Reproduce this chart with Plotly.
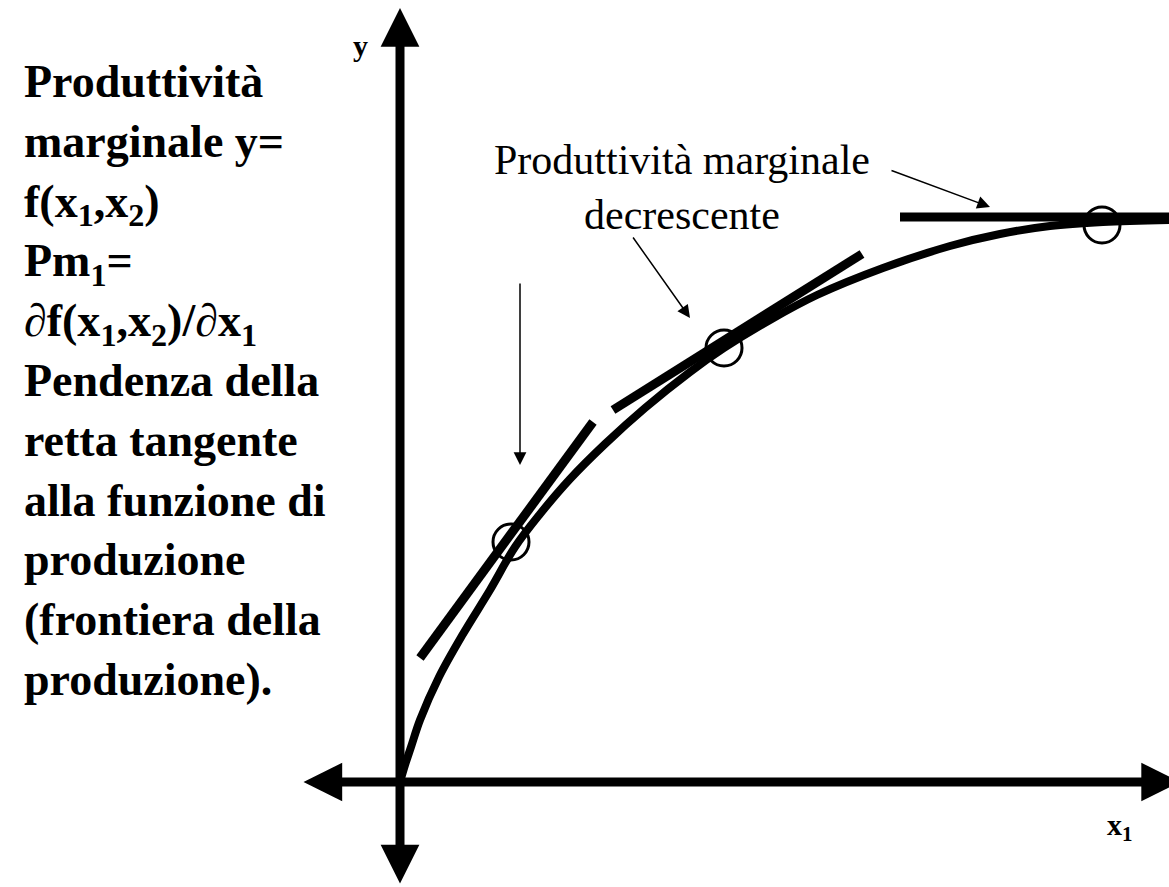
import plotly.graph_objects as go

# Production function y = f(x1, x2) as a function of x1 (points along the curve)
curve_x = [0.00, 0.05, 0.11, 0.20, 0.39, 0.63, 0.90, 1.15, 1.40, 1.70, 2.05, 2.45, 2.90, 3.24,
           3.70, 4.17, 4.83, 5.50, 6.00, 6.50, 7.03, 7.69]
curve_y = [0.00, 0.17, 0.35, 0.62, 1.05, 1.48, 1.92, 2.35, 2.68, 3.03, 3.38, 3.74, 4.10, 4.34,
           4.62, 4.87, 5.14, 5.36, 5.48, 5.56, 5.60, 5.62]

# Points where the marginal productivity is shown
point_x = [1.11, 3.24, 7.02]
point_y = [2.40, 4.34, 5.57]

# Tangent segments (start and end of each line)
tan_x0 = [0.20, 2.13, 5.00]
tan_y0 = [1.24, 3.72, 5.65]
tan_x1 = [1.93, 4.62, 7.75]
tan_y1 = [3.60, 5.28, 5.65]

# Axis extents (arrow tips)
x_axis_min, x_axis_max = -0.98, 7.80
y_axis_min, y_axis_max = -1.03, 7.74

# Pointer arrows: tail -> head
ptr_tail_x = [1.20, 2.32, 4.90]
ptr_tail_y = [5.00, 5.46, 6.12]
ptr_head_x = [1.20, 2.90, 5.90]
ptr_head_y = [3.17, 4.64, 5.75]

left_lines = [
    "Produttività",
    "marginale y=",
    "f(x<sub>1</sub>,x<sub>2</sub>)",
    "Pm<sub>1</sub>=",
    "∂f(x<sub>1</sub>,x<sub>2</sub>)/∂x<sub>1</sub>",
    "Pendenza della",
    "retta tangente",
    "alla funzione di",
    "produzione",
    "(frontiera della",
    "produzione).",
]
middle_label = "Produttività marginale<br>decrescente"

SERIF = "'Liberation Serif', 'Times New Roman', 'DejaVu Serif', serif"
BLACK = "#000000"

fig = go.Figure()

# Production curve
fig.add_trace(go.Scatter(
    x=curve_x, y=curve_y, mode="lines",
    line=dict(color=BLACK, width=8, shape="spline", smoothing=1.0),
    hoverinfo="skip", showlegend=False,
))

# Tangent lines
for xa, ya, xb, yb in zip(tan_x0, tan_y0, tan_x1, tan_y1):
    fig.add_trace(go.Scatter(
        x=[xa, xb], y=[ya, yb], mode="lines",
        line=dict(color=BLACK, width=9),
        hoverinfo="skip", showlegend=False,
    ))

# Tangency points
fig.add_trace(go.Scatter(
    x=point_x, y=point_y, mode="markers",
    marker=dict(symbol="circle-open", size=36, color=BLACK, line=dict(width=3, color=BLACK)),
    hoverinfo="skip", showlegend=False,
))

# Double-headed axes
axis_style = dict(
    text="", showarrow=True, xref="x", yref="y", axref="x", ayref="y",
    arrowcolor=BLACK, arrowwidth=9, arrowhead=2, arrowsize=0.86,
    startarrowhead=2, startarrowsize=0.86, arrowside="end+start",
)
fig.add_annotation(x=0, y=y_axis_max, ax=0, ay=y_axis_min, **axis_style)
fig.add_annotation(x=x_axis_max, y=0, ax=x_axis_min, ay=0, **axis_style)

# Thin pointer arrows
for tx, ty, hx, hy in zip(ptr_tail_x, ptr_tail_y, ptr_head_x, ptr_head_y):
    fig.add_annotation(
        x=hx, y=hy, ax=tx, ay=ty, text="", showarrow=True,
        xref="x", yref="y", axref="x", ayref="y",
        arrowcolor=BLACK, arrowwidth=1.5, arrowhead=2, arrowsize=1.7,
    )

# Axis labels
fig.add_annotation(x=-0.40, y=7.37, text="<b>y</b>", showarrow=False,
                   font=dict(family=SERIF, size=30, color=BLACK))
fig.add_annotation(x=7.20, y=-0.45, text="<b>x<sub>1</sub></b>", showarrow=False,
                   font=dict(family=SERIF, size=30, color=BLACK))

# Label of the tangent lines
fig.add_annotation(x=2.82, y=6.47, text=middle_label, showarrow=False,
                   xanchor="center", yanchor="top", align="center",
                   font=dict(family=SERIF, size=42, color=BLACK))

# Explanatory text block
fig.add_annotation(x=-3.78, y=7.28, text="<br>".join(f"<b>{s}</b>" for s in left_lines),
                   showarrow=False, xanchor="left", yanchor="top", align="left",
                   font=dict(family=SERIF, size=46, color=BLACK))

fig.update_layout(
    width=1169, height=887,
    margin=dict(l=0, r=0, t=0, b=0),
    paper_bgcolor="white", plot_bgcolor="white",
    xaxis=dict(range=[-4.00, 7.69], visible=False, fixedrange=True),
    yaxis=dict(range=[-1.05, 7.82], visible=False, fixedrange=True),
    showlegend=False,
)

fig.write_html("out.html")
